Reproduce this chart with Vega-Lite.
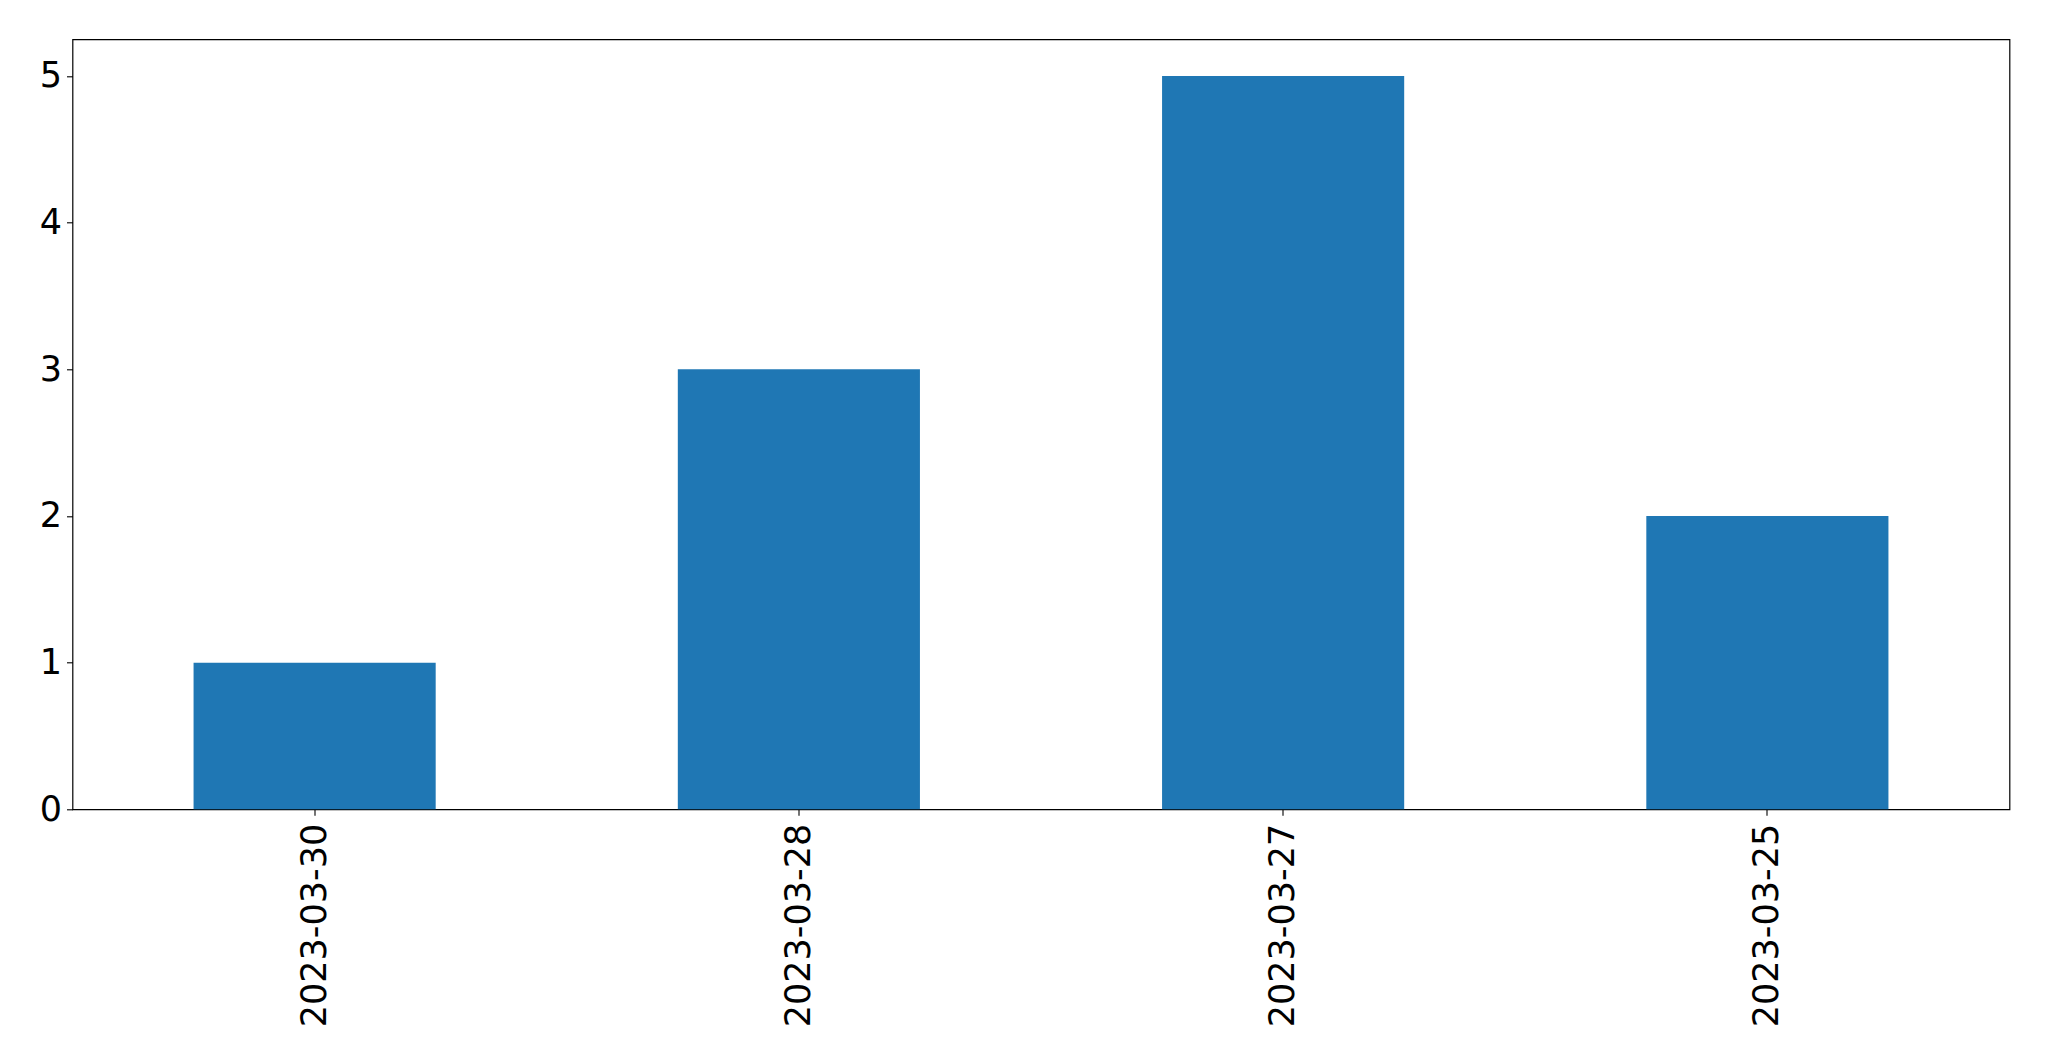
{
  "$schema": "https://vega.github.io/schema/vega-lite/v6.json",
  "autosize": "none",
  "width": 1937,
  "height": 770,
  "padding": {"left": 72.5, "top": 39.3, "right": 39.5, "bottom": 251.7},
  "background": "white",
  "config": {
    "view": {"stroke": "black", "strokeWidth": 1.2},
    "axis": {
      "domain": false,
      "grid": false,
      "ticks": true,
      "tickColor": "black",
      "tickSize": 6,
      "tickWidth": 1.1,
      "labelFont": "DejaVu Sans",
      "labelFontSize": 35,
      "labelColor": "black",
      "labelLimit": 0,
      "title": null
    }
  },
  "data": {
    "values": [
      {"date": "2023-03-30", "count": 1},
      {"date": "2023-03-28", "count": 3},
      {"date": "2023-03-27", "count": 5},
      {"date": "2023-03-25", "count": 2}
    ]
  },
  "mark": {"type": "bar", "color": "#1f77b4"},
  "encoding": {
    "x": {
      "field": "date",
      "type": "nominal",
      "sort": null,
      "scale": {"paddingInner": 0.5, "paddingOuter": 0.25},
      "axis": {"labelAngle": -90, "labelPadding": 8, "labelAlign": "right", "labelBaseline": "middle", "labelLimit": 0}
    },
    "y": {
      "field": "count",
      "type": "quantitative",
      "scale": {"domain": [0, 5.25], "nice": false, "zero": true},
      "axis": {"values": [0, 1, 2, 3, 4, 5], "labelPadding": 5, "format": "d"}
    }
  }
}
